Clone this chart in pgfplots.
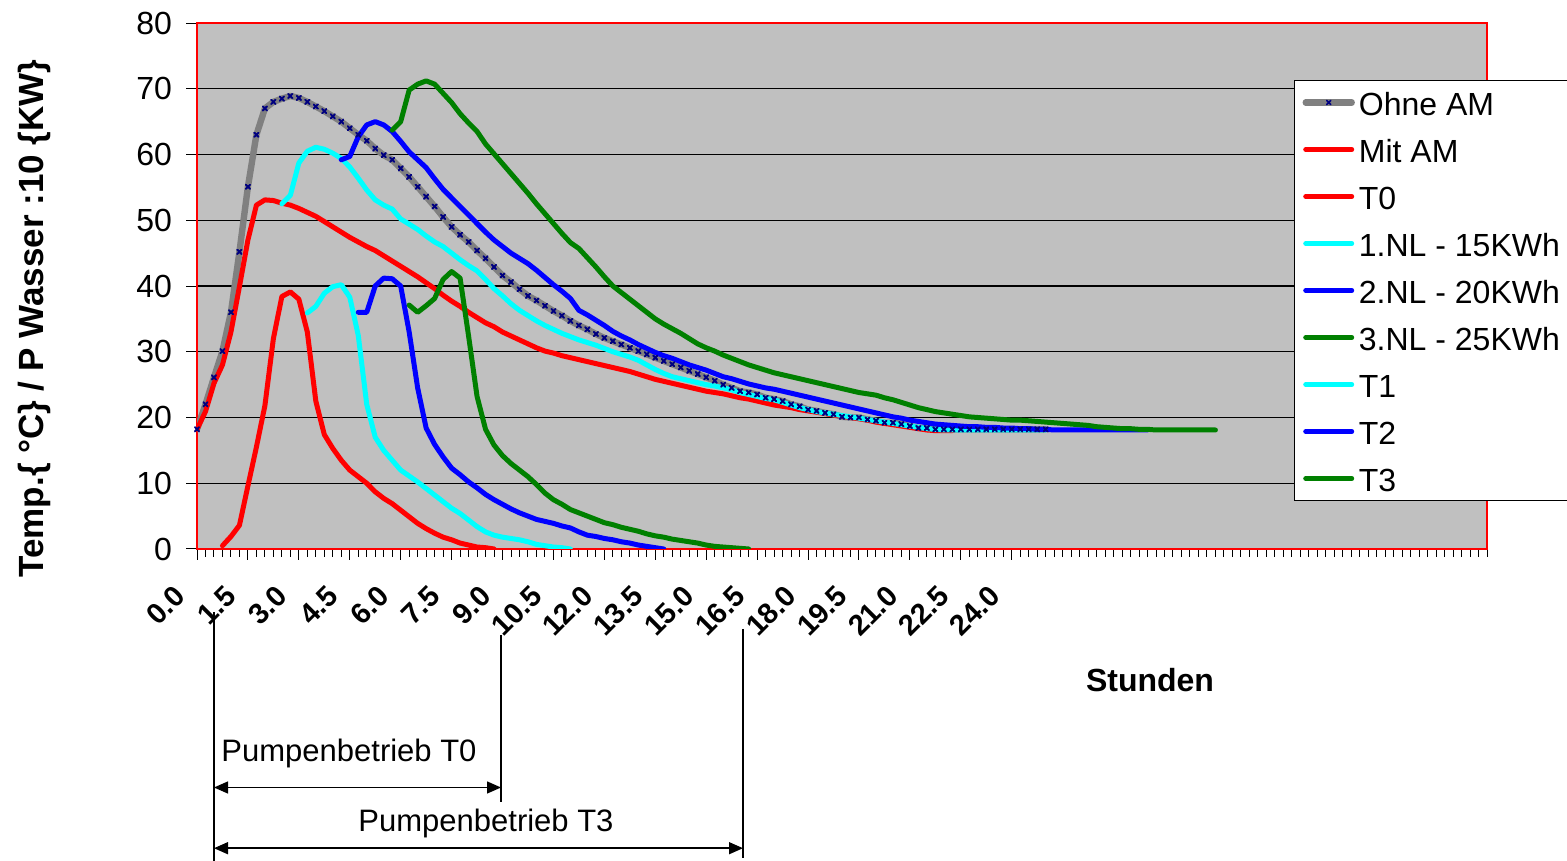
\documentclass[border=0pt]{standalone}
\usepackage{fontspec}
\setmainfont{Liberation Sans}
\usepackage{pgfplots}
\usepackage{pgfplotstable}
\pgfplotsset{compat=1.18}
\usetikzlibrary{arrows.meta}
\definecolor{plotgray}{RGB}{192,192,192}
\definecolor{exgreen}{RGB}{0,128,0}
\definecolor{exgray}{RGB}{128,128,128}
\definecolor{exnavy}{RGB}{0,0,128}
\definecolor{excyan}{RGB}{0,255,255}
\definecolor{exblue}{RGB}{0,0,255}
\definecolor{exred}{RGB}{255,0,0}

\pgfplotstableread{
i y
0 18.2
1 22.0
2 26.1
3 30.1
4 36.0
5 45.2
6 55.1
7 63.0
8 67.0
9 68.0
10 68.5
11 68.9
12 68.6
13 68.0
14 67.3
15 66.6
16 65.8
17 65.0
18 64.0
19 63.0
20 62.1
21 60.9
22 59.9
23 59.2
24 57.9
25 56.6
26 55.1
27 53.6
28 52.1
29 50.5
30 49.0
31 47.8
32 46.7
33 45.4
34 44.2
35 42.9
36 41.6
37 40.6
38 39.5
39 38.5
40 37.8
41 37.0
42 36.2
43 35.5
44 34.7
45 34.0
46 33.4
47 32.7
48 32.1
49 31.6
50 31.1
51 30.6
52 30.1
53 29.6
54 29.1
55 28.6
56 28.1
57 27.6
58 27.1
59 26.6
60 26.1
61 25.6
62 25.0
63 24.5
64 24.0
65 23.8
66 23.5
67 23.0
68 22.8
69 22.5
70 22.0
71 21.7
72 21.2
73 21.0
74 20.7
75 20.5
76 20.1
77 20.0
78 20.0
79 19.7
80 19.5
81 19.2
82 19.2
83 19.0
84 18.7
85 18.4
86 18.4
87 18.2
88 18.2
89 18.2
90 18.2
91 18.2
92 18.2
93 18.2
94 18.2
95 18.2
96 18.2
97 18.2
98 18.2
99 18.2
100 18.2
}\ohne

\pgfplotstableread{
i y
0 18.2
1 20.9
2 25.2
3 28.0
4 33.0
5 39.9
6 47.0
7 52.3
8 53.1
9 53.0
10 52.6
11 52.3
12 51.8
13 51.2
14 50.6
15 49.8
16 49.0
17 48.2
18 47.4
19 46.7
20 46.0
21 45.4
22 44.6
23 43.8
24 43.0
25 42.2
26 41.4
27 40.5
28 39.6
29 38.6
30 37.7
31 36.9
32 36.0
33 35.2
34 34.4
35 33.8
36 33.0
37 32.4
38 31.8
39 31.2
40 30.6
41 30.1
42 29.8
43 29.4
44 29.1
45 28.8
46 28.5
47 28.2
48 27.9
49 27.6
50 27.3
51 27.0
52 26.6
53 26.2
54 25.8
55 25.5
56 25.2
57 24.9
58 24.6
59 24.3
60 24.0
61 23.8
62 23.6
63 23.3
64 23.0
65 22.8
66 22.5
67 22.2
68 21.9
69 21.7
70 21.5
71 21.2
72 21.0
73 20.8
74 20.6
75 20.4
76 20.2
77 20.0
78 19.8
79 19.6
80 19.3
81 19.1
82 18.9
83 18.7
84 18.5
85 18.3
86 18.1
87 18.0
88 18.0
89 18.0
}\mitam

\pgfplotstableread{
i y
3 0.5
4 1.9
5 3.6
6 9.6
7 15.5
8 21.8
9 32.0
10 38.4
11 39.1
12 38.0
13 33.0
14 22.5
15 17.4
16 15.3
17 13.5
18 12.0
19 11.0
20 10.0
21 8.7
22 7.7
23 6.9
24 5.9
25 4.9
26 3.9
27 3.1
28 2.4
29 1.8
30 1.4
31 0.9
32 0.6
33 0.3
34 0.2
35 0.0
}\tzero

\pgfplotstableread{
i y
10 52.5
11 53.8
12 58.7
13 60.5
14 61.1
15 60.8
16 60.2
17 59.4
18 58.1
19 56.4
20 54.6
21 53.1
22 52.3
23 51.7
24 50.2
25 49.4
26 48.6
27 47.6
28 46.7
29 46.0
30 45.0
31 44.0
32 43.1
33 42.3
34 41.0
35 39.6
36 38.5
37 37.3
38 36.3
39 35.5
40 34.7
41 34.0
42 33.4
43 32.8
44 32.3
45 31.8
46 31.4
47 31.0
48 30.5
49 30.0
50 29.6
51 29.2
52 28.7
53 28.0
54 27.3
55 26.7
56 26.2
57 25.9
58 25.6
59 25.3
60 25.0
61 24.8
62 24.5
63 24.2
64 23.8
65 23.5
66 23.2
67 22.9
68 22.7
69 22.3
70 21.9
71 21.5
72 21.2
73 20.9
74 20.7
75 20.5
76 20.3
77 20.1
78 19.9
79 19.7
80 19.5
81 19.3
82 19.1
83 18.9
84 18.7
85 18.5
86 18.3
87 18.2
88 18.1
92 18.1
96 18.1
100 18.1
}\nlone

\pgfplotstableread{
i y
17 59.2
18 59.7
19 62.7
20 64.5
21 65.0
22 64.5
23 63.5
24 62.0
25 60.4
26 59.2
27 58.0
28 56.3
29 54.7
30 53.4
31 52.1
32 50.8
33 49.5
34 48.2
35 47.0
36 46.0
37 45.0
38 44.2
39 43.4
40 42.4
41 41.3
42 40.2
43 39.2
44 38.1
45 36.3
46 35.6
47 34.8
48 34.0
49 33.1
50 32.4
51 31.8
52 31.1
53 30.5
54 29.9
55 29.4
56 29.0
57 28.5
58 28.0
59 27.6
60 27.2
61 26.7
62 26.2
63 25.9
64 25.5
65 25.1
66 24.8
67 24.5
68 24.3
69 24.0
70 23.7
71 23.4
72 23.1
73 22.8
74 22.5
75 22.2
76 21.9
77 21.6
78 21.3
79 21.0
80 20.7
81 20.4
82 20.1
83 19.9
84 19.6
85 19.4
86 19.2
87 19.0
88 18.9
89 18.8
90 18.7
91 18.6
92 18.6
93 18.5
94 18.5
95 18.4
96 18.4
97 18.3
98 18.3
99 18.2
100 18.2
101 18.1
112 18.1
}\nltwo

\pgfplotstableread{
i y
23 63.7
24 65.0
25 69.8
26 70.7
27 71.2
28 70.7
29 69.3
30 67.9
31 66.2
32 64.8
33 63.5
34 61.6
35 60.1
36 58.6
37 57.1
38 55.6
39 54.1
40 52.5
41 51.0
42 49.5
43 48.0
44 46.6
45 45.7
46 44.3
47 42.9
48 41.4
49 40.0
50 39.0
51 38.0
52 37.0
53 36.0
54 35.0
55 34.2
56 33.5
57 32.8
58 32.0
59 31.2
60 30.6
61 30.1
62 29.5
63 29.0
64 28.5
65 28.0
66 27.6
67 27.2
68 26.8
69 26.5
70 26.2
71 25.9
72 25.6
73 25.3
74 25.0
75 24.7
76 24.4
77 24.1
78 23.8
79 23.6
80 23.4
81 23.0
82 22.7
83 22.3
84 21.9
85 21.5
86 21.2
87 20.9
88 20.7
89 20.5
90 20.3
91 20.1
92 20.0
93 19.9
94 19.8
95 19.7
96 19.6
97 19.6
98 19.5
99 19.4
100 19.3
101 19.2
102 19.1
103 19.0
104 18.9
105 18.8
106 18.6
107 18.5
108 18.4
109 18.3
110 18.3
111 18.2
112 18.2
113 18.1
120 18.1
}\nlthree

\pgfplotstableread{
i y
13 35.9
14 36.9
15 38.9
16 39.9
17 40.2
18 38.3
19 32.5
20 22.0
21 17.0
22 15.0
23 13.5
24 12.0
25 11.1
26 10.2
27 9.2
28 8.2
29 7.2
30 6.2
31 5.4
32 4.4
33 3.4
34 2.6
35 2.1
36 1.8
37 1.6
38 1.4
39 1.1
40 0.7
41 0.5
42 0.3
43 0.2
44 0.0
}\tone

\pgfplotstableread{
i y
19 36.0
20 36.0
21 40.0
22 41.2
23 41.1
24 40.0
25 33.0
26 24.5
27 18.4
28 15.9
29 14.0
30 12.3
31 11.3
32 10.2
33 9.3
34 8.3
35 7.5
36 6.8
37 6.1
38 5.5
39 5.0
40 4.5
41 4.2
42 3.9
43 3.5
44 3.2
45 2.6
46 2.1
47 1.9
48 1.6
49 1.4
50 1.1
51 0.9
52 0.6
53 0.4
54 0.2
55 0.0
}\ttwo

\pgfplotstableread{
i y
25 37.1
26 36.0
27 37.0
28 38.1
29 41.0
30 42.2
31 41.2
32 32.4
33 23.2
34 18.2
35 15.8
36 14.2
37 13.0
38 12.0
39 11.0
40 9.8
41 8.5
42 7.5
43 6.8
44 6.0
45 5.5
46 5.0
47 4.5
48 4.0
49 3.7
50 3.3
51 3.0
52 2.7
53 2.3
54 2.0
55 1.8
56 1.5
57 1.3
58 1.1
59 0.9
60 0.6
61 0.4
62 0.3
63 0.2
64 0.1
65 0.0
}\tthree

\begin{document}
\begin{tikzpicture}
\begin{axis}[
  at={(98.5bp,156bp)}, anchor=south west,
  scale only axis, width=645bp, height=263bp,
  xmin=0, xmax=152, ymin=0, ymax=80,
  axis background/.style={fill=plotgray},
  axis line style={exred, line width=1bp},
  xtick={0,6,...,96},
  xticklabels={0.0,1.5,3.0,4.5,6.0,7.5,9.0,10.5,12.0,13.5,15.0,16.5,18.0,19.5,21.0,22.5,24.0},
  minor xtick={0,1,...,152},
  ytick={0,10,...,80},
  xtick pos=bottom, ytick pos=left,
  tick align=outside,
  major tick length=5.5bp, minor tick length=4bp,
  tick style={black, line width=0.5bp},
  ymajorgrids, grid style={black, line width=0.6bp},
  /pgf/number format/assume math mode=true,
  yticklabel style={font=\fontsize{16bp}{19bp}\selectfont, xshift=-3.5bp},
  xticklabel style={font=\fontsize{14.5bp}{17bp}\selectfont\bfseries, xshift=-6bp, yshift=-13bp, rotate=45, anchor=east},
  legend style={at={(0.8504,0.8916)}, anchor=north west, draw=black, line width=0.5bp, fill=white,
    font=\fontsize{16bp}{19bp}\selectfont, inner xsep=4bp, inner ysep=1bp, row sep=3.5bp,
    nodes={inner xsep=2bp, inner ysep=0pt, text height=16.5bp, text depth=3.5bp}},
  legend cell align=left,
  legend image code/.code={\draw[mark repeat=2,mark phase=2,#1] plot coordinates {(0bp,0bp) (11.5bp,0bp) (23bp,0bp)};},
  every axis plot/.append style={line join=round, line cap=round},
]
\addplot[exgray, line width=3.2bp, mark=x, mark size=1.5bp, mark options={exnavy, line width=0.8bp}] table[x=i,y=y] {\ohne};
\addlegendentry{Ohne AM}
\addplot[exred, line width=2.5bp] table[x=i,y=y] {\mitam};
\addlegendentry{Mit AM}
\addplot[exred, line width=2.5bp] table[x=i,y=y] {\tzero};
\addlegendentry{T0}
\addplot[excyan, line width=2.5bp] table[x=i,y=y] {\nlone};
\addlegendentry{1.NL - 15KWh}
\addplot[exblue, line width=2.5bp] table[x=i,y=y] {\nltwo};
\addlegendentry{2.NL - 20KWh}
\addplot[exgreen, line width=2.5bp] table[x=i,y=y] {\nlthree};
\addlegendentry{3.NL - 25KWh}
\addplot[excyan, line width=2.5bp] table[x=i,y=y] {\tone};
\addlegendentry{T1}
\addplot[exblue, line width=2.5bp] table[x=i,y=y] {\ttwo};
\addlegendentry{T2}
\addplot[exgreen, line width=2.5bp] table[x=i,y=y] {\tthree};
\addlegendentry{T3}
\addplot[only marks, forget plot, mark=x, mark size=1.5bp, mark options={exnavy, line width=0.8bp}] table[x=i,y=y] {\ohne};
\end{axis}
% annotations (absolute positions)
\node[rotate=90, anchor=base, font=\fontsize{17.5bp}{20bp}\selectfont\bfseries] at (21.6bp,271.2bp) {Temp.\{ °C\} / P Wasser :10 \{KW\}};
\node[anchor=base, font=\fontsize{16bp}{19bp}\selectfont\bfseries] at (575bp,84.5bp) {Stunden};
\draw[black, line width=0.7bp] (107bp,124.5bp) -- (107bp,0bp);
\draw[black, line width=0.7bp] (250.5bp,113bp) -- (250.5bp,29.5bp);
\draw[black, line width=0.7bp] (371.5bp,116bp) -- (371.5bp,1.5bp);
\draw[black, line width=0.7bp, {Triangle[length=7bp,width=6bp]}-{Triangle[length=7bp,width=6bp]}] (107bp,36.75bp) -- (250.5bp,36.75bp);
\draw[black, line width=0.7bp, {Triangle[length=7bp,width=6bp]}-{Triangle[length=7bp,width=6bp]}] (107bp,6.4bp) -- (371.5bp,6.4bp);
\node[anchor=base, font=\fontsize{15.5bp}{18bp}\selectfont] at (174.5bp,49.7bp) {Pumpenbetrieb T0};
\node[anchor=base, font=\fontsize{15.5bp}{18bp}\selectfont] at (243bp,14.6bp) {Pumpenbetrieb T3};
\pgfresetboundingbox
\useasboundingbox (0,0) rectangle (783.5bp,430.5bp);
\end{tikzpicture}
\end{document}
